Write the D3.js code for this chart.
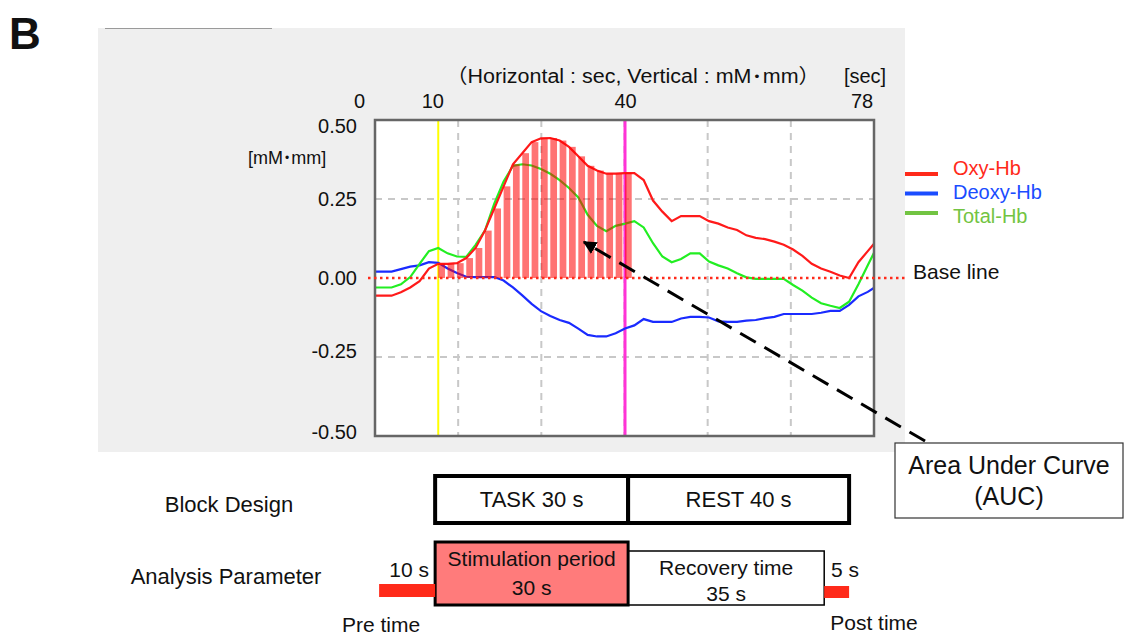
<!DOCTYPE html>
<html>
<head>
<meta charset="utf-8">
<script src="https://cdn.jsdelivr.net/npm/d3@7"></script>
<style>
  body { margin: 0; background: #fff; }
  text { font-family: "Liberation Sans", Arial, "Noto Sans CJK JP", sans-serif; fill: #111; }
</style>
</head>
<body>
<div class="chart"></div>
<script>
// time points (sec) and signals (mM·mm)
var times = [-0.5, 1, 2.5, 4, 5.5, 7, 8.5, 10, 11.5, 13, 14.5, 16, 17.5, 19, 20.5, 22, 23.5, 25, 26.5, 28,
  29.5, 31, 32.5, 34, 35.5, 37, 38.5, 40, 41.5, 43, 44.5, 46, 47.5, 49, 50.5, 52, 53.5, 55, 56.5, 58,
  59.5, 61, 62.5, 64, 65.5, 67, 68.5, 70, 71.5, 73, 74.5, 76, 77.5, 79, 80.5];

var oxyHb = [-0.056, -0.056, -0.056, -0.045, -0.03, -0.01, 0.03, 0.045, 0.045, 0.047, 0.063, 0.095, 0.15, 0.22,
  0.29, 0.36, 0.395, 0.43, 0.442, 0.443, 0.435, 0.415, 0.385, 0.355, 0.34, 0.33, 0.33, 0.332, 0.332, 0.31,
  0.245, 0.21, 0.18, 0.196, 0.196, 0.196, 0.18, 0.172, 0.16, 0.152, 0.135, 0.127, 0.123, 0.115, 0.105,
  0.09, 0.07, 0.045, 0.03, 0.02, 0.008, 0.0, 0.05, 0.085, 0.12];

var deoxyHb = [0.02, 0.02, 0.02, 0.028, 0.036, 0.04, 0.05, 0.048, 0.03, 0.016, 0.004, 0.003, 0.003, 0.003,
  -0.008, -0.03, -0.055, -0.082, -0.105, -0.12, -0.133, -0.142, -0.16, -0.18, -0.185, -0.185, -0.175, -0.16,
  -0.15, -0.13, -0.139, -0.139, -0.139, -0.128, -0.123, -0.123, -0.125, -0.137, -0.139, -0.139, -0.135,
  -0.133, -0.127, -0.123, -0.114, -0.114, -0.114, -0.114, -0.11, -0.104, -0.104, -0.085, -0.058, -0.044, -0.025];

var totalHb = [-0.03, -0.03, -0.03, -0.02, 0.003, 0.045, 0.085, 0.095, 0.078, 0.068, 0.067, 0.105, 0.15, 0.235,
  0.305, 0.355, 0.36, 0.356, 0.345, 0.33, 0.31, 0.285, 0.255, 0.2, 0.165, 0.148, 0.165, 0.172, 0.18, 0.16,
  0.11, 0.068, 0.05, 0.06, 0.078, 0.078, 0.052, 0.04, 0.03, 0.015, 0.002, -0.003, -0.003, -0.003, -0.003,
  -0.022, -0.04, -0.062, -0.08, -0.088, -0.095, -0.075, -0.02, 0.04, 0.1];

var xTicks = [0, 10, 40, 78];
var yTicks = [0.5, 0.25, 0, -0.25, -0.5];
var taskStart = 10, taskEnd = 40;

var seriesNames = ['Oxy-Hb', 'Deoxy-Hb', 'Total-Hb'];
var seriesColors = ['#ff1a1a', '#1a2bff', '#22ee22'];
var legendColors = ['#ff2a1a', '#1a4cff', '#72c442'];
var seriesValues = [oxyHb, deoxyHb, totalHb];

// schematic (sec on same time axis)
var blockLabels = ['TASK 30 s', 'REST 40 s'];
var blockStarts = [9.5, 40.5];
var blockEnds = [40.5, 76];
var paramLines1 = ['Stimulation period', 'Recovery time'];
var paramLines2 = ['30 s', '35 s'];
var paramStarts = [9.5, 40.5];
var paramEnds = [40.5, 72];
var preTime = [0.5, 9.5];
var postTime = [72, 76];

var svg = d3.select('.chart').append('svg')
    .attr('width', 1124)
    .attr('height', 637);

var x = d3.scaleLinear().domain([0, 80]).range([376, 874]);
var y = d3.scaleLinear().domain([-0.5, 0.5]).range([436, 120]);
var frame = { left: 375, right: 874, top: 120, bottom: 436 };

// grey panel
svg.append('rect')
    .attr('x', 98).attr('y', 28).attr('width', 807).attr('height', 424)
    .attr('fill', '#efefef');
svg.append('line')
    .attr('x1', 105).attr('x2', 272).attr('y1', 28.5).attr('y2', 28.5)
    .attr('stroke', '#9a9a9a').attr('stroke-width', 1);

svg.append('text')
    .attr('x', 9).attr('y', 49)
    .style('font-size', '44px').style('font-weight', 'bold')
    .text('B');

var title = svg.append('text')
    .attr('x', 446).attr('y', 83)
    .attr('textLength', 374).attr('lengthAdjust', 'spacingAndGlyphs')
    .style('font-size', '20px');
title.append('tspan').text('（Horizontal : sec, Vertical : mM');
title.append('tspan').attr('dx', 3).style('font-size', '13px').attr('dy', -2).text('•');
title.append('tspan').attr('dx', 3).attr('dy', 2).text('mm）');

svg.append('text')
    .attr('x', 865).attr('y', 83)
    .attr('text-anchor', 'middle')
    .style('font-size', '20px')
    .text('[sec]');

var yUnit = svg.append('text')
    .attr('x', 248).attr('y', 164)
    .style('font-size', '18px');
yUnit.append('tspan').text('[mM');
yUnit.append('tspan').attr('dx', 2).attr('dy', -2).style('font-size', '12px').text('•');
yUnit.append('tspan').attr('dx', 2).attr('dy', 2).text('mm]');

// plot area
svg.append('rect')
    .attr('x', frame.left).attr('y', frame.top)
    .attr('width', frame.right - frame.left).attr('height', frame.bottom - frame.top)
    .attr('fill', '#fff');

svg.append('clipPath').attr('id', 'clip')
  .append('rect')
    .attr('x', frame.left).attr('y', frame.top)
    .attr('width', frame.right - frame.left).attr('height', frame.bottom - frame.top);

var plot = svg.append('g').attr('clip-path', 'url(#clip)');

// dashed grid: sixths horizontally, quarters vertically
var gridX = d3.range(1, 6).map(function(i) { return frame.left + i * (frame.right - frame.left) / 6; });
plot.selectAll('.gx').data(gridX).enter().append('line')
    .attr('x1', function(d) { return d; }).attr('x2', function(d) { return d; })
    .attr('y1', frame.top).attr('y2', frame.bottom)
    .attr('stroke', '#c8c8c8').attr('stroke-width', 2).attr('stroke-dasharray', '7,6');
plot.selectAll('.gy').data([0.25, -0.25]).enter().append('line')
    .attr('x1', frame.left).attr('x2', frame.right)
    .attr('y1', function(d) { return y(d); }).attr('y2', function(d) { return y(d); })
    .attr('stroke', '#c8c8c8').attr('stroke-width', 2).attr('stroke-dasharray', '7,6');

// task onset / offset markers
plot.append('line')
    .attr('x1', x(taskStart)).attr('x2', x(taskStart))
    .attr('y1', frame.top).attr('y2', frame.bottom)
    .attr('stroke', '#ffff00').attr('stroke-width', 2);
plot.append('line')
    .attr('x1', x(taskEnd)).attr('x2', x(taskEnd))
    .attr('y1', frame.top).attr('y2', frame.bottom)
    .attr('stroke', '#ff33d6').attr('stroke-width', 3);

var line = d3.line()
    .x(function(d) { return x(d[0]); })
    .y(function(d) { return y(d[1]); });

[1, 2, 0].forEach(function(s) {
  plot.append('path')
      .datum(d3.zip(times, seriesValues[s]))
      .attr('fill', 'none')
      .attr('stroke', seriesColors[s])
      .attr('stroke-width', 2.2)
      .attr('d', line);
});

// AUC bars during the task
var step = x(times[1]) - x(times[0]);
var aucPoints = d3.zip(times, oxyHb).filter(function(d) { return d[0] >= taskStart && d[0] <= taskEnd; });
plot.selectAll('.auc').data(aucPoints).enter().append('rect')
    .attr('x', function(d) { return x(d[0]); })
    .attr('y', function(d) { return Math.min(y(d[1]), y(0)); })
    .attr('width', step * 0.72)
    .attr('height', function(d) { return Math.abs(y(0) - y(d[1])); })
    .attr('fill', 'rgba(255,0,0,0.55)');

// frame
svg.append('rect')
    .attr('x', frame.left).attr('y', frame.top)
    .attr('width', frame.right - frame.left).attr('height', frame.bottom - frame.top)
    .attr('fill', 'none').attr('stroke', '#666').attr('stroke-width', 2.5);

// base line
svg.append('line')
    .attr('x1', 368).attr('x2', 905)
    .attr('y1', y(0)).attr('y2', y(0))
    .attr('stroke', '#ff2a1a').attr('stroke-width', 2.5).attr('stroke-dasharray', '2.5,3.5');
svg.append('text')
    .attr('x', 913).attr('y', y(0) - 5)
    .attr('dominant-baseline', 'middle')
    .style('font-size', '21px')
    .text('Base line');

// axes
var xAxis = svg.append('g')
    .attr('transform', 'translate(0,' + 110 + ')')
    .call(d3.axisTop(x).tickValues(xTicks).tickSize(0).tickPadding(2).tickFormat(d3.format('d')));
xAxis.select('.domain').remove();
xAxis.selectAll('text')
    .style('font-size', '20px').attr('fill', '#111')
    .attr('dx', function(d) { return d === 0 ? -17 : d === 10 ? -6 : 0; });

var yAxis = svg.append('g')
    .attr('transform', 'translate(' + 360 + ',0)')
    .call(d3.axisLeft(y).tickValues(yTicks).tickSize(0).tickPadding(3)
      .tickFormat(function(d) { return d3.format('.2f')(d).replace('\u2212', '-'); }));
yAxis.select('.domain').remove();
yAxis.selectAll('text')
    .style('font-size', '20px').attr('fill', '#111')
    .attr('dy', function(d) { return d === 0.5 ? '0.62em' : d === -0.5 ? '0.12em' : d === -0.25 ? '0.0em' : '0.32em'; });

// legend
var legend = svg.selectAll('.legend').data(seriesNames).enter().append('g');
legend.append('line')
    .attr('x1', 905).attr('x2', 938)
    .attr('y1', function(d, i) { return 174 + i * 19.5; })
    .attr('y2', function(d, i) { return 174 + i * 19.5; })
    .attr('stroke', function(d, i) { return legendColors[i]; })
    .attr('stroke-width', 4);
legend.append('text')
    .attr('x', 953)
    .attr('y', function(d, i) { return 170 + i * 24; })
    .attr('dominant-baseline', 'middle')
    .style('font-size', '20px')
    .style('fill', function(d, i) { return legendColors[i]; })
    .text(function(d) { return d; });

// AUC annotation arrow
var tip = [33.4, 0.114], tail = [88.2, -0.516];
svg.append('defs').append('marker')
    .attr('id', 'head').attr('viewBox', '0 0 10 10')
    .attr('refX', 9).attr('refY', 5)
    .attr('markerWidth', 4.5).attr('markerHeight', 4.5)
    .attr('orient', 'auto')
  .append('path').attr('d', 'M0,0L10,5L0,10Z').attr('fill', '#000');
svg.append('line')
    .attr('x1', x(tail[0])).attr('y1', y(tail[1]))
    .attr('x2', x(tip[0])).attr('y2', y(tip[1]))
    .attr('stroke', '#000').attr('stroke-width', 3)
    .attr('stroke-dasharray', '18,10')
    .attr('marker-end', 'url(#head)');

svg.append('rect')
    .attr('x', 895).attr('y', 443).attr('width', 228).attr('height', 75)
    .attr('fill', '#fff').attr('stroke', '#333').attr('stroke-width', 1.2);
svg.append('text')
    .attr('x', 1009).attr('y', 474).attr('text-anchor', 'middle')
    .style('font-size', '25px').text('Area Under Curve');
svg.append('text')
    .attr('x', 1009).attr('y', 505).attr('text-anchor', 'middle')
    .style('font-size', '25px').text('(AUC)');

// block design
svg.append('text')
    .attr('x', 229).attr('y', 512).attr('text-anchor', 'middle')
    .style('font-size', '22px').text('Block Design');
blockLabels.forEach(function(label, i) {
  svg.append('rect')
      .attr('x', x(blockStarts[i])).attr('y', 476)
      .attr('width', x(blockEnds[i]) - x(blockStarts[i])).attr('height', 47)
      .attr('fill', '#fff').attr('stroke', '#000').attr('stroke-width', 4);
  svg.append('text')
      .attr('x', (x(blockStarts[i]) + x(blockEnds[i])) / 2).attr('y', 507)
      .attr('text-anchor', 'middle')
      .style('font-size', '22px').text(label);
});

// analysis parameter
svg.append('text')
    .attr('x', 226).attr('y', 584).attr('text-anchor', 'middle')
    .style('font-size', '22px').text('Analysis Parameter');

svg.append('rect')
    .attr('x', x(paramStarts[1])).attr('y', 551)
    .attr('width', x(paramEnds[1]) - x(paramStarts[1])).attr('height', 54)
    .attr('fill', '#fff').attr('stroke', '#000').attr('stroke-width', 1.5);
svg.append('rect')
    .attr('x', x(paramStarts[0])).attr('y', 542)
    .attr('width', x(paramEnds[0]) - x(paramStarts[0])).attr('height', 63)
    .attr('fill', '#ff7b7b').attr('stroke', '#000').attr('stroke-width', 3);
[0, 1].forEach(function(i) {
  var cx = (x(paramStarts[i]) + x(paramEnds[i])) / 2;
  svg.append('text')
      .attr('x', cx).attr('y', i === 0 ? 566 : 575).attr('text-anchor', 'middle')
      .style('font-size', '21px').text(paramLines1[i]);
  svg.append('text')
      .attr('x', cx).attr('y', i === 0 ? 595 : 601).attr('text-anchor', 'middle')
      .style('font-size', '21px').text(paramLines2[i]);
});

svg.append('rect')
    .attr('x', x(preTime[0])).attr('y', 584)
    .attr('width', x(preTime[1]) - x(preTime[0])).attr('height', 13)
    .attr('fill', '#ff2a1a');
svg.append('text')
    .attr('x', (x(preTime[0]) + x(preTime[1])) / 2 + 2).attr('y', 577).attr('text-anchor', 'middle')
    .style('font-size', '21px').text('10 s');
svg.append('text')
    .attr('x', 381).attr('y', 632).attr('text-anchor', 'middle')
    .style('font-size', '21px').text('Pre time');

svg.append('rect')
    .attr('x', x(postTime[0])).attr('y', 586)
    .attr('width', x(postTime[1]) - x(postTime[0])).attr('height', 12)
    .attr('fill', '#ff2a1a');
svg.append('text')
    .attr('x', 845).attr('y', 577).attr('text-anchor', 'middle')
    .style('font-size', '21px').text('5 s');
svg.append('text')
    .attr('x', 874).attr('y', 630).attr('text-anchor', 'middle')
    .style('font-size', '21px').text('Post time');
</script>
</body>
</html>
